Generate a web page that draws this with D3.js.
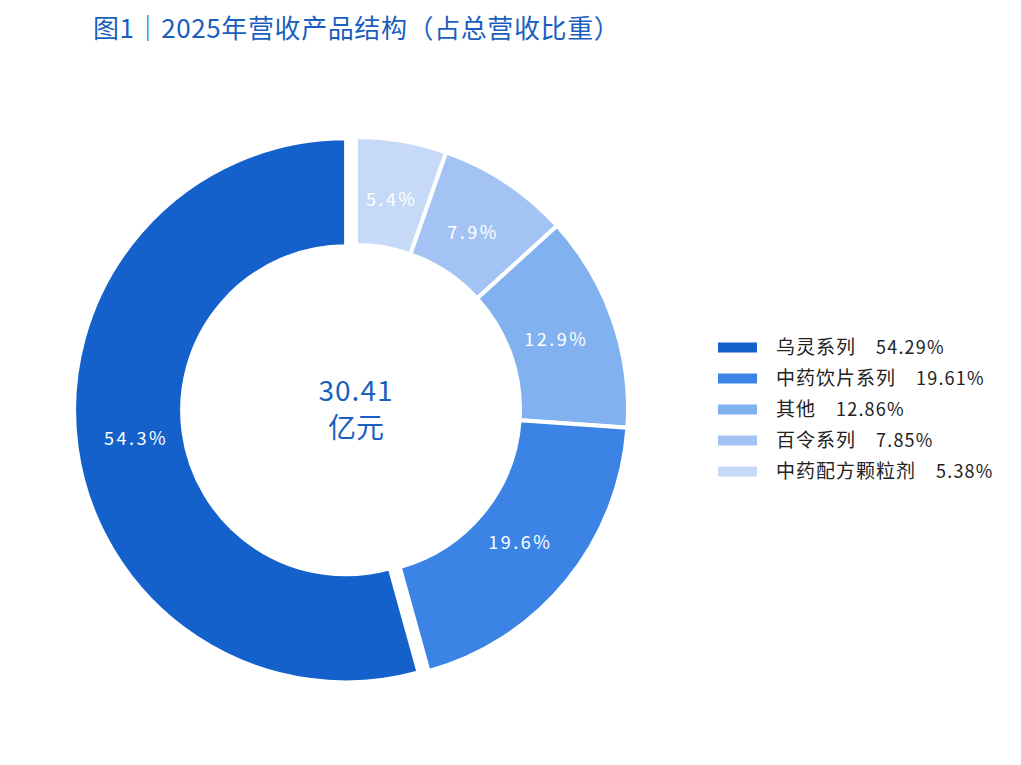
<!DOCTYPE html>
<html><head><meta charset="utf-8">
<script src="https://cdn.jsdelivr.net/npm/d3@7/dist/d3.min.js"></script>
<style>
html,body{margin:0;padding:0;background:#fff;}
svg{display:block;}
</style></head>
<body><svg id="c" width="1021" height="765"></svg>
<script>
const categories = ["乌灵系列","中药饮片系列","其他","百令系列","中药配方颗粒剂"];
const shares = [54.29,19.61,12.86,7.85,5.38];
const colors = ["#1561CB","#3B84E6","#82B1EF","#A3C3F4","#C6DAF7"];
const totalLabel = "30.41";
const totalUnit = "亿元";
const title = "图1｜2025年营收产品结构（占总营收比重）";

const svg = d3.select("#c");
const font = "'Noto Sans CJK SC','Noto Sans',sans-serif";
const cx = 356, cy = 409, rOuter = 272, rInner = 164;
const fmt1 = v => (v + 1e-9).toFixed(1);

svg.append("text").attr("x",93).attr("y",38)
  .attr("font-family",font).attr("font-size",26).attr("fill","#1A5FC0")
  .attr("letter-spacing","0.6px")
  .text(title);

const items = categories.map((c,i)=>({name:c,value:shares[i],color:colors[i],idx:i}));
const pie = d3.pie().sort(null).value(d=>d.value).startAngle(0).endAngle(2*Math.PI);
const arcs = pie(items.slice().reverse());
const arc = d3.arc().innerRadius(rInner).outerRadius(rOuter);
const labelArc = d3.arc().innerRadius(212).outerRadius(212);
const g = svg.append("g").attr("transform",`translate(${cx},${cy})`);
const explode = 10;
const off = d => {
  if (d.data.idx !== 0) return [0,0];
  const a = (d.startAngle+d.endAngle)/2;
  return [Math.sin(a)*explode, -Math.cos(a)*explode];
};
const sl = g.selectAll("g.s").data(arcs).enter().append("g")
  .attr("transform",d=>{const o=off(d);return `translate(${o[0]},${o[1]})`;});
sl.append("path").attr("d",arc).attr("fill",d=>d.data.color)
  .attr("stroke","#fff").attr("stroke-width",4);
sl.append("text").attr("transform",d=>`translate(${labelArc.centroid(d)})`)
  .attr("text-anchor","middle").attr("dy","0.35em")
  .attr("font-family",font).attr("font-size",18).attr("fill","#fff")
  .attr("letter-spacing","2.5px")
  .text(d=>fmt1(d.data.value)+"%");

g.append("text").attr("x",0).attr("y",-18).attr("text-anchor","middle").attr("dy","0.35em")
  .attr("font-family",font).attr("font-size",28).attr("fill","#1A5FC0").attr("letter-spacing","1px")
  .text(totalLabel);
g.append("text").attr("x",0).attr("y",19).attr("text-anchor","middle").attr("dy","0.35em")
  .attr("font-family",font).attr("font-size",28).attr("fill","#1A5FC0")
  .text(totalUnit);

const y = d3.scaleBand().domain(categories).range([332,487]);
const lg = svg.append("g");
const row = lg.selectAll("g").data(items).enter().append("g")
  .attr("transform",d=>`translate(718,${y(d.name)+y.bandwidth()/2})`);
row.append("rect").attr("x",0).attr("y",-5).attr("width",39).attr("height",10).attr("fill",d=>d.color);
const t = row.append("text").attr("x",58).attr("dy","0.35em")
  .attr("font-family",font).attr("font-size",19).attr("fill","#222");
t.append("tspan").attr("letter-spacing","1px").text(d=>d.name);
t.append("tspan").attr("dx",20).attr("letter-spacing","1.2px").attr("font-size",18)
  .text(d=>d.value.toFixed(2)+"%");
</script></body></html>
